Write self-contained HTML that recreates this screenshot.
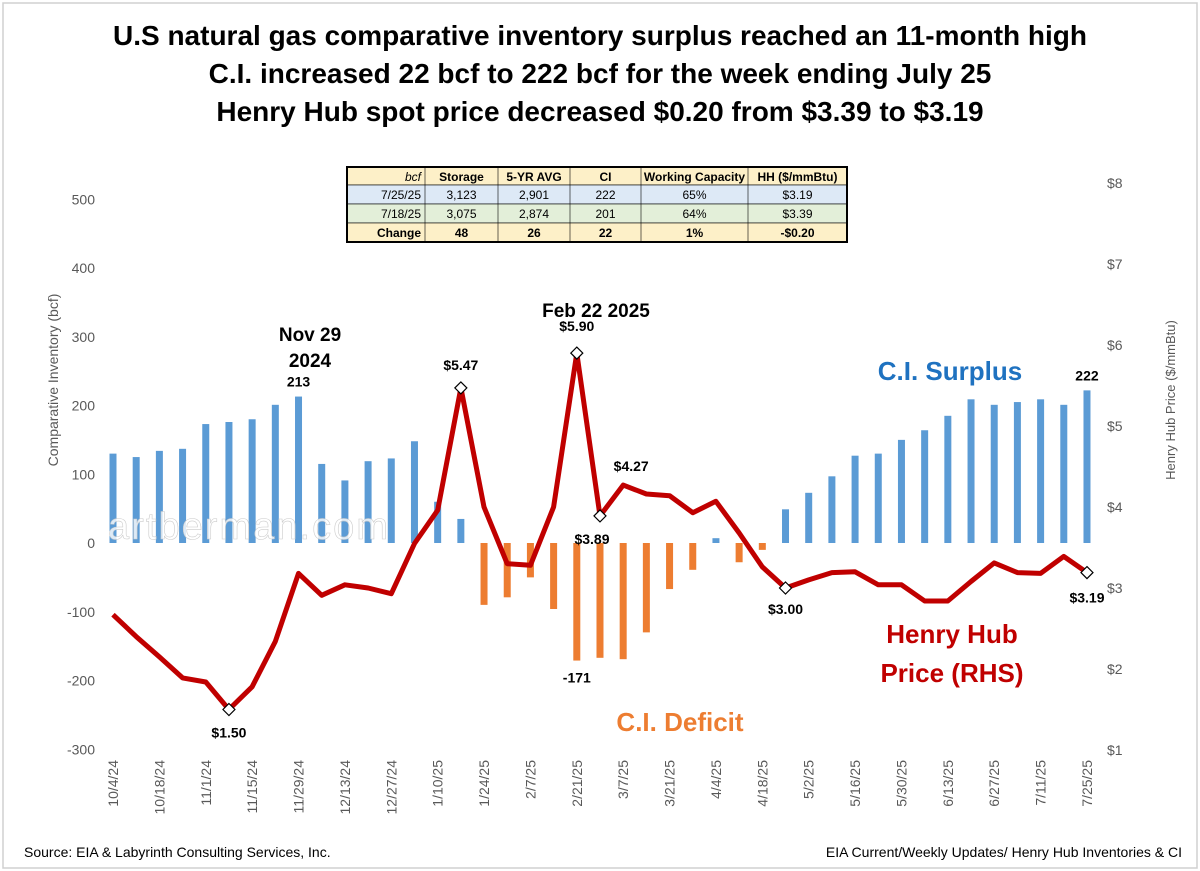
<!DOCTYPE html>
<html><head><meta charset="utf-8"><style>
body{margin:0;background:#fff;}
svg{display:block;font-family:"Liberation Sans",sans-serif;}
</style></head><body>
<svg id="chart" width="1200" height="871" viewBox="0 0 1200 871" xmlns="http://www.w3.org/2000/svg">
<rect x="3" y="3" width="1194" height="865" fill="#fff" stroke="#d0d0d0" stroke-width="1.5"/>
<g font-weight="bold" font-size="28" text-anchor="middle" fill="#000">
<text x="600" y="45">U.S natural gas comparative inventory surplus reached an 11-month high</text>
<text x="600" y="83">C.I. increased 22 bcf to 222 bcf for the week ending July 25</text>
<text x="600" y="121">Henry Hub spot price decreased $0.20 from $3.39 to $3.19</text>
</g>
<g id="table" font-size="12" fill="#000"></g>
<g id="bars"></g>
<g id="axes" font-size="14" fill="#595959"></g>
<text transform="translate(58,380) rotate(-90)" text-anchor="middle" font-size="14" fill="#595959">Comparative Inventory (bcf)</text>
<text transform="translate(1175,400) rotate(-90)" text-anchor="middle" font-size="13" fill="#595959">Henry Hub Price ($/mmBtu)</text>
<text x="108" y="539" font-size="38" fill="#fff" fill-opacity="0.8" stroke="#ccc" stroke-width="0.6" textLength="280">artberman.com</text>
<g id="line"></g>
<g font-weight="bold" fill="#000">
<text x="310" y="341" font-size="19" text-anchor="middle">Nov 29</text>
<text x="310" y="367" font-size="19" text-anchor="middle">2024</text>
<text x="596" y="317" font-size="19" text-anchor="middle">Feb 22 2025</text>
<text x="950" y="380" font-size="26" fill="#1f72c0" text-anchor="middle">C.I. Surplus</text>
<text x="680" y="731" font-size="26" fill="#ed7d31" text-anchor="middle">C.I. Deficit</text>
<text x="952" y="643" font-size="26" fill="#c00000" text-anchor="middle">Henry Hub</text>
<text x="952" y="682" font-size="26" fill="#c00000" text-anchor="middle">Price (RHS)</text>
</g>
<text x="24" y="857" font-size="14" fill="#000">Source: EIA &amp; Labyrinth Consulting Services, Inc.</text>
<text x="1182" y="857" font-size="14" fill="#000" text-anchor="end">EIA Current/Weekly Updates/ Henry Hub Inventories &amp; CI</text>
</svg>
<script>
const dates = ["10/4/24","10/11/24","10/18/24","10/25/24","11/1/24","11/8/24","11/15/24","11/22/24","11/29/24","12/6/24","12/13/24","12/20/24","12/27/24","1/3/25","1/10/25","1/17/25","1/24/25","1/31/25","2/7/25","2/14/25","2/21/25","2/28/25","3/7/25","3/14/25","3/21/25","3/28/25","4/4/25","4/11/25","4/18/25","4/25/25","5/2/25","5/9/25","5/16/25","5/23/25","5/30/25","6/6/25","6/13/25","6/20/25","6/27/25","7/4/25","7/11/25","7/18/25","7/25/25"];
const ciValues = [130,125,134,137,173,176,180,201,213,115,91,119,123,148,60,35,-90,-79,-50,-96,-171,-167,-169,-130,-67,-39,7,-28,-10,49,73,97,127,130,150,164,185,209,201,205,209,201,222];
const priceValues = [2.67,2.40,2.15,1.89,1.84,1.50,1.78,2.34,3.18,2.91,3.04,3.00,2.93,3.55,3.96,5.47,4.00,3.30,3.28,4.00,5.90,3.89,4.27,4.16,4.14,3.93,4.07,3.68,3.26,3.00,3.10,3.19,3.20,3.04,3.04,2.84,2.84,3.08,3.31,3.19,3.18,3.39,3.19];
const leftTicks = [-300,-200,-100,0,100,200,300,400,500];
const rightTicks = ["$1","$2","$3","$4","$5","$6","$7","$8"];
const rightTickValues = [1,2,3,4,5,6,7,8];
const markedIdx = [5,15,20,21,29,42];
const priceLabels = ["$1.50","$5.47","$5.90","$3.89","$3.00","$3.19"];
const tableHeader = ["bcf","Storage","5-YR AVG","CI","Working Capacity","HH ($/mmBtu)"];
const tableRow1 = ["7/25/25","3,123","2,901","222","65%","$3.19"];
const tableRow2 = ["7/18/25","3,075","2,874","201","64%","$3.39"];
const tableRow3 = ["Change","48","26","22","1%","-$0.20"];

const NS="http://www.w3.org/2000/svg";
function mk(tag,attrs,parent){const e=document.createElementNS(NS,tag);for(const k in attrs)e.setAttribute(k,attrs[k]);parent.appendChild(e);return e;}
const xOf=i=>113+i*23.19;
const yL=v=>543-v*0.6875;
const yR=p=>750-(p-1)*81;

const ax=document.getElementById('axes');
leftTicks.forEach(v=>{const t=mk('text',{x:95,y:yL(v)+5,'text-anchor':'end'},ax);t.textContent=v;

});
rightTickValues.forEach((v,i)=>{const t=mk('text',{x:1107,y:yR(v)+5},ax);t.textContent=rightTicks[i];

});
dates.forEach((d,i)=>{if(i%2)return;const x=xOf(i);const t=mk('text',{transform:`translate(${x+5},760) rotate(-90)`,'text-anchor':'end'},ax);t.textContent=d;

});

const bg=document.getElementById('bars');
ciValues.forEach((v,i)=>{const y0=yL(0),y1=yL(v);const r=mk('rect',{x:xOf(i)-3.5,y:Math.min(y0,y1),width:7,height:Math.max(1,Math.abs(y1-y0)),fill:v>=0?'#5b9bd5':'#ed7d31'},bg);

});
[[8,'213'],[20,'-171'],[42,'222']].forEach(([i,s])=>{const v=ciValues[i];const t=mk('text',{x:xOf(i),y:v>=0?yL(v)-10:yL(v)+22,'text-anchor':'middle','font-size':14,'font-weight':'bold'},bg);t.textContent=s;

});

const lg=document.getElementById('line');
const pts=priceValues.map((p,i)=>xOf(i).toFixed(1)+','+yR(p).toFixed(1)).join(' ');
const pl=mk('polyline',{points:pts,fill:'none',stroke:'#c00000','stroke-width':5,'stroke-linejoin':'round'},lg);


const lblOff=[[0,28],[0,-18],[0,-22],[-8,28],[0,26],[0,30]];
markedIdx.forEach((i,k)=>{const x=xOf(i),y=yR(priceValues[i]);
const d=mk('path',{d:`M${x} ${y-6}L${x+6} ${y}L${x} ${y+6}L${x-6} ${y}Z`,fill:'#fff',stroke:'#000','stroke-width':1.2},lg);


const t=mk('text',{x:x+lblOff[k][0],y:y+lblOff[k][1],'text-anchor':'middle','font-size':14,'font-weight':'bold'},lg);t.textContent=priceLabels[k];

});
{const i=22,x=xOf(i),y=yR(priceValues[i]);const t=mk('text',{x:x+8,y:y-14,'text-anchor':'middle','font-size':14,'font-weight':'bold'},lg);t.textContent='$4.27';

}

const tg=document.getElementById('table');
const colX=[347,425,498,570,641,748,847];
const rowY=[167,185,204,223,242];
const rows=[tableHeader,tableRow1,tableRow2,tableRow3];
const fills=['#fdf0c8','#dde9f6','#e3efd9','#fdf0c8'];
rows.forEach((row,r)=>{
 const rr=mk('rect',{x:347,y:rowY[r],width:500,height:rowY[r+1]-rowY[r],fill:fills[r],stroke:'#000','stroke-width':0.6},tg);
 
 
 row.forEach((c,j)=>{
  const cx=j===0?colX[1]-4:(colX[j]+colX[j+1])/2;
  const t=mk('text',{x:cx,y:rowY[r]+14,'text-anchor':j===0?'end':'middle','font-weight':(r===0&&j>0)||r===3?'bold':'normal','font-style':r===0&&j===0?'italic':'normal'},tg);
  t.textContent=c;
  
  
 });
});
colX.slice(1,6).forEach(x=>{const l=mk('line',{x1:x,x2:x,y1:167,y2:242,stroke:'#000','stroke-width':0.6},tg);

});
const ob=mk('rect',{x:347,y:167,width:500,height:75,fill:'none',stroke:'#000','stroke-width':2},tg);


</script>
</body></html>
